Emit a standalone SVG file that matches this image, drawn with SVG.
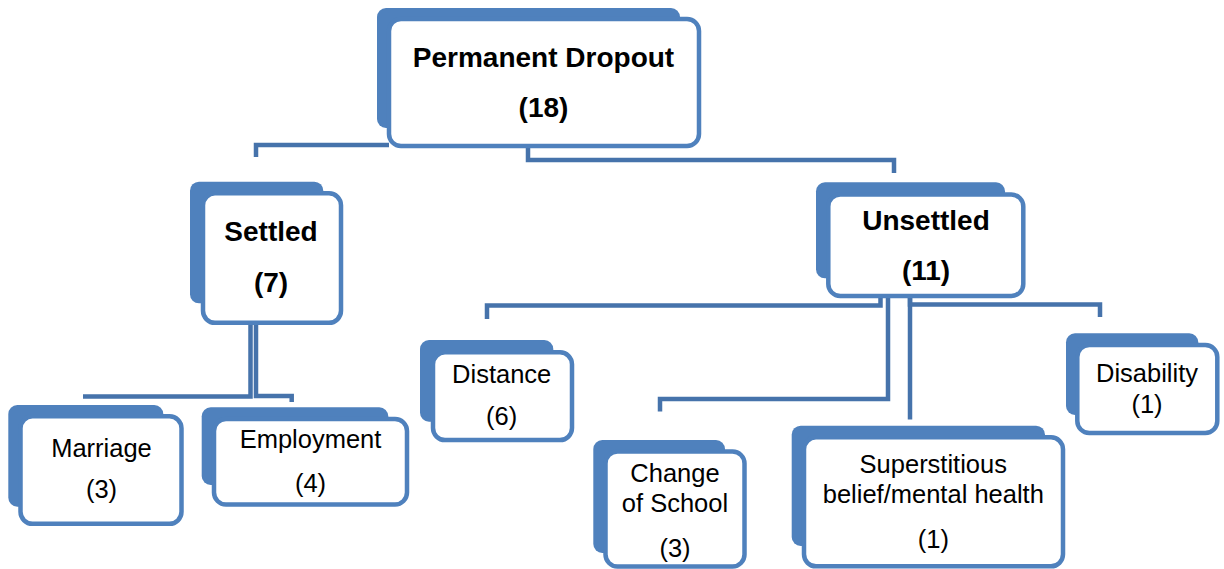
<svg xmlns="http://www.w3.org/2000/svg" width="1224" height="569" viewBox="0 0 1224 569">
<style>
.shadow{fill:#4F81BD;}
.box{fill:#FFFFFF;stroke:#4F81BD;stroke-width:4.5;}
.conn{fill:none;stroke:#4673AB;stroke-width:4.5;stroke-linejoin:miter;stroke-linecap:butt;}
.b{font-family:"Liberation Sans",Arial,sans-serif;font-weight:bold;font-size:28px;fill:#000;text-anchor:middle;}
.r{font-family:"Liberation Sans",Arial,sans-serif;font-size:25.5px;fill:#000;text-anchor:middle;}
</style>
<rect width="1224" height="569" fill="#FFFFFF"/>
<g id="connectors">
<path class="conn" d="M389,145 H256 V157"/>
<path class="conn" d="M528,146 V160 H894 V173"/>
<path class="conn" d="M250.5,323 V396.5 H83"/>
<path class="conn" d="M256,323 V396 H291.7 V402"/>
<path class="conn" d="M880.5,296 V305.5 H487 V319"/>
<path class="conn" d="M888,296 V399 H660 V411.5"/>
<path class="conn" d="M910,296 V419.5"/>
<path class="conn" d="M910,296 V304.5 H1100 V317"/>
</g>
<g id="node-permanent-dropout">
<rect class="shadow" x="377" y="8" width="303" height="120" rx="9"/>
<rect class="box" x="389" y="19" width="310" height="127" rx="12"/>
<text class="b" x="543.5" y="67">Permanent Dropout</text>
<text class="b" x="543.5" y="117">(18)</text>
</g>
<g id="node-settled">
<rect class="shadow" x="190" y="181.7" width="133.3" height="121.6" rx="9"/>
<rect class="box" x="203" y="193.3" width="138" height="129.5" rx="12"/>
<text class="b" x="271" y="241">Settled</text>
<text class="b" x="271" y="292">(7)</text>
</g>
<g id="node-unsettled">
<rect class="shadow" x="816" y="182.3" width="189" height="96" rx="9"/>
<rect class="box" x="828.3" y="194.5" width="195" height="101.5" rx="12"/>
<text class="b" x="926" y="230">Unsettled</text>
<text class="b" x="926" y="280">(11)</text>
</g>
<g id="node-marriage">
<rect class="shadow" x="8.3" y="405" width="155" height="101.7" rx="9"/>
<rect class="box" x="20.5" y="416.3" width="161" height="107.5" rx="12"/>
<text class="r" x="101.5" y="456.7">Marriage</text>
<text class="r" x="101.5" y="497.5">(3)</text>
</g>
<g id="node-employment">
<rect class="shadow" x="201.7" y="407.3" width="186.6" height="77.7" rx="9"/>
<rect class="box" x="214" y="419" width="193" height="85.5" rx="12"/>
<text class="r" x="310.5" y="448">Employment</text>
<text class="r" x="310.5" y="491.7">(4)</text>
</g>
<g id="node-distance">
<rect class="shadow" x="420" y="340" width="133.3" height="81.7" rx="9"/>
<rect class="box" x="433" y="352.3" width="139" height="87.8" rx="12"/>
<text class="r" x="501.7" y="383.3">Distance</text>
<text class="r" x="501.7" y="425">(6)</text>
</g>
<g id="node-change-of-school">
<rect class="shadow" x="593.3" y="440" width="131.7" height="113" rx="9"/>
<rect class="box" x="605.5" y="451.5" width="139" height="115" rx="12"/>
<text class="r" x="675" y="481.7">Change</text>
<text class="r" x="675" y="511.7">of School</text>
<text class="r" x="675" y="556.7">(3)</text>
</g>
<g id="node-superstitious">
<rect class="shadow" x="791.7" y="425.7" width="253.3" height="120.3" rx="9"/>
<rect class="box" x="804" y="437.3" width="259" height="129" rx="12"/>
<text class="r" x="933.3" y="473.3">Superstitious</text>
<text class="r" x="933.3" y="503.3">belief/mental health</text>
<text class="r" x="933.3" y="548.3">(1)</text>
</g>
<g id="node-disability">
<rect class="shadow" x="1066" y="333.3" width="132.3" height="81.7" rx="9"/>
<rect class="box" x="1077.3" y="345" width="140" height="88" rx="12"/>
<text class="r" x="1147" y="381.7">Disability</text>
<text class="r" x="1147" y="413.3">(1)</text>
</g>
</svg>
